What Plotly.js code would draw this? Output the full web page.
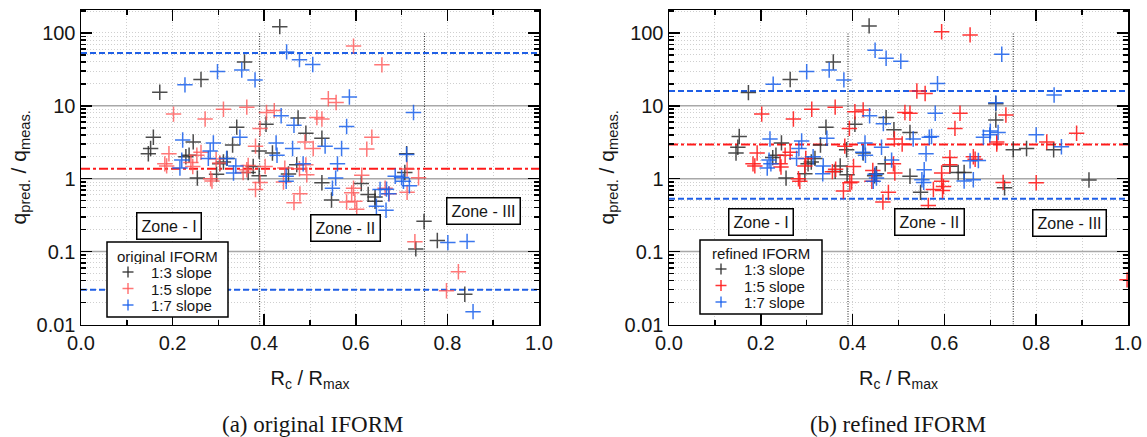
<!DOCTYPE html>
<html><head><meta charset="utf-8">
<script src="https://cdn.plot.ly/plotly-3.0.1.min.js"></script>
<style>html,body{margin:0;padding:0;background:#fff;} #chart{width:1147px;height:437px;}</style>
</head><body><div id="chart"></div>
<script>
// ---------- DATA : (a) original IFORM ----------
const origS3X = [0.434,0.357,0.262,0.172,0.340,0.158,0.152,0.147,0.245,0.236,0.229,0.254,0.296,0.303,0.311,0.319,0.331,0.389,0.376,0.365,0.389,0.404,0.474,0.491,0.471,0.453,0.418,0.526,0.526,0.547,0.612,0.627,0.642,0.642,0.711,0.707,0.749,0.778,0.731,0.838];
const origS3Y = [122,40,23,15.4,5.1,3.7,2.6,2.2,3.2,2.1,2.0,1.02,1.15,1.6,1.7,1.9,2.9,2.4,1.47,1.22,1.1,5.6,6.8,4.2,1.56,1.16,2.25,3.6,0.88,0.51,0.86,0.61,0.56,0.49,2.2,1.22,0.26,0.142,0.109,0.026];
const origS5X = [0.311,0.362,0.202,0.271,0.405,0.422,0.381,0.391,0.192,0.183,0.187,0.240,0.244,0.253,0.262,0.283,0.286,0.295,0.303,0.354,0.362,0.365,0.402,0.391,0.381,0.442,0.445,0.478,0.465,0.489,0.477,0.491,0.493,0.595,0.657,0.540,0.557,0.515,0.526,0.507,0.635,0.624,0.613,0.595,0.591,0.580,0.598,0.602,0.664,0.673,0.712,0.737,0.712,0.729,0.824,0.798];
const origS5Y = [9.0,9.6,7.7,6.6,8.1,8.6,2.8,4.9,2.2,1.6,1.5,1.67,1.47,2.1,2.3,1.0,0.93,1.86,1.64,1.22,1.33,1.52,1.47,0.89,0.71,0.9,1.4,0.62,0.47,3.2,1.37,1.55,1.13,66,36.5,12.5,11.1,6.9,6.6,2.6,3.7,2.55,1.12,0.74,0.64,0.48,0.49,0.38,0.74,0.62,0.65,1.03,1.36,0.137,0.053,0.029];
const origS7X = [0.449,0.477,0.506,0.351,0.298,0.227,0.380,0.437,0.465,0.222,0.289,0.347,0.282,0.278,0.220,0.216,0.318,0.338,0.333,0.426,0.428,0.462,0.448,0.448,0.485,0.586,0.580,0.533,0.569,0.726,0.560,0.556,0.549,0.653,0.667,0.672,0.645,0.666,0.686,0.700,0.704,0.717,0.711,0.801,0.843,0.856];
const origS7Y = [55,43,37,31,29.5,19.4,22.7,7.3,5.4,3.4,3.1,3.7,2.4,1.9,1.8,1.4,1.9,1.5,1.2,3.1,2.1,2.6,1.08,0.92,1.6,13.2,5.2,2.8,2.6,8.1,1.6,1.02,0.74,0.71,0.72,0.62,0.42,0.37,1.08,1.04,0.92,0.80,2.15,0.133,0.138,0.015];
// ---------- DATA : (b) refined IFORM ----------
const refS3X = [0.436,0.358,0.264,0.173,0.342,0.153,0.150,0.146,0.245,0.233,0.226,0.255,0.296,0.303,0.310,0.318,0.330,0.387,0.373,0.362,0.388,0.405,0.473,0.490,0.525,0.471,0.452,0.448,0.423,0.525,0.548,0.612,0.630,0.643,0.712,0.712,0.731,0.750,0.779,0.838,0.915];
const refS3Y = [125,40,23,15.2,5.1,3.8,2.7,2.25,3.1,2.1,1.95,1.02,1.17,1.6,1.7,1.9,2.9,2.5,1.5,1.26,1.13,5.6,6.9,4.7,4.3,1.6,1.17,1.1,2.25,1.08,0.65,1.48,1.22,1.22,10.7,6.4,0.75,2.5,2.6,2.5,0.96];
const refS5X = [0.202,0.271,0.311,0.362,0.405,0.423,0.393,0.383,0.192,0.183,0.187,0.242,0.244,0.253,0.264,0.282,0.285,0.296,0.298,0.356,0.363,0.402,0.394,0.380,0.398,0.442,0.444,0.478,0.466,0.491,0.508,0.489,0.492,0.514,0.525,0.540,0.558,0.594,0.656,0.634,0.623,0.612,0.612,0.663,0.667,0.594,0.594,0.598,0.596,0.576,0.565,0.734,0.714,0.714,0.728,0.800,0.823,0.888,0.998];
const refS5Y = [7.7,6.6,9.0,9.6,8.3,8.8,4.9,2.8,2.25,1.6,1.5,1.6,1.45,2.1,2.3,1.0,0.92,1.5,1.9,1.25,1.35,1.47,0.88,0.68,0.9,0.92,1.3,0.65,0.48,3.5,3.0,1.6,1.2,8.1,7.9,16,14.8,104,94,7.9,4.9,1.95,1.55,2.0,1.85,1.2,0.92,0.78,0.69,0.71,0.43,7.5,3.2,3.0,0.89,0.88,3.2,4.2,0.041];
const refS7X = [0.449,0.473,0.505,0.349,0.300,0.227,0.381,0.437,0.467,0.220,0.289,0.344,0.283,0.278,0.218,0.222,0.214,0.314,0.336,0.335,0.427,0.422,0.428,0.463,0.449,0.445,0.485,0.532,0.585,0.725,0.580,0.567,0.572,0.560,0.556,0.551,0.555,0.643,0.663,0.656,0.674,0.685,0.699,0.700,0.717,0.712,0.800,0.839,0.855,0.452];
const refS7Y = [58,45,41,31,29.5,19.8,22.7,7.3,5.7,3.5,3.3,3.6,2.6,1.9,1.8,1.6,1.4,2.0,1.5,1.17,3.1,2.3,2.1,2.7,1.15,0.92,1.8,3.5,20.2,51,7.9,3.7,3.8,2.2,1.33,0.97,0.89,0.93,0.97,1.76,1.78,3.7,4.0,4.5,4.3,11,4.0,14.1,2.75,1.02];
// reference lines: [upper bound, mean, lower bound]
const origBounds = [53, 1.37, 0.03];
const refBounds = [16, 2.95, 0.53];
const factorLines = [0.1, 1, 10];
const zoneEdges = [0.39, 0.75];
const zoneSpan = [0.01, 100];
const seriesNames = ['1:3 slope', '1:5 slope', '1:7 slope'];
const zoneLabels = ['Zone - I', 'Zone - II', 'Zone - III'];
const legendTitles = ['original IFORM', 'refined IFORM'];
const captions = ['(a) original IFORM', '(b) refined IFORM'];
const xTickVals = [0, 0.2, 0.4, 0.6, 0.8, 1.0];
const yTickVals = [0.01, 0.1, 1, 10, 100];
const yTickText = ['0.01', '0.1', '1', '10', '100'];

// ---------- LAYOUT ----------
const W = 1147, H = 437;
const SANS = 'Liberation Sans, Arial, sans-serif';
const SERIF = 'Liberation Serif, Times New Roman, serif';
const yMinor = [];
for (let e = -2; e < 2; e++) for (let m = 2; m <= 9; m++) yMinor.push(m * Math.pow(10, e));
yMinor.push(200);
const gridC = '#cfcfcf';
const TXT = '#161616';

function xAxis(domain, anchor) {
  return {
    domain, anchor, range: [0, 1], tickmode: 'array', tickvals: xTickVals,
    ticktext: xTickVals.map(v => v.toFixed(1)),
    ticks: 'inside', ticklen: 11, tickwidth: 1.5, tickcolor: '#000',
    showline: true, linecolor: '#000', linewidth: 1.5, mirror: 'ticks',
    showgrid: true, gridcolor: gridC, griddash: '1px,2px', gridwidth: 1, zeroline: false,
    minor: {dtick: 0.1, tick0: 0, ticks: 'inside', ticklen: 5, tickwidth: 1.5, tickcolor: '#000',
            showgrid: true, gridcolor: gridC, griddash: '1px,2px', gridwidth: 1},
    tickfont: {family: SANS, size: 20, color: TXT},
    title: {text: 'R<sub>c</sub> / R<sub>max</sub>', font: {family: SANS, size: 20, color: TXT}, standoff: 18}
  };
}
function yAxis(anchor) {
  return {
    type: 'log', domain: [1 - 324.5 / H, 1 - 10 / H], anchor, range: [-2, 2.315],
    tickmode: 'array', tickvals: yTickVals, ticktext: yTickText,
    ticks: 'inside', ticklen: 11, tickwidth: 1.5, tickcolor: '#000',
    showline: true, linecolor: '#000', linewidth: 1.5, mirror: 'ticks',
    showgrid: true, gridcolor: gridC, griddash: '1px,2px', gridwidth: 1, zeroline: false,
    minor: {tickmode: 'array', tickvals: yMinor, ticks: 'inside', ticklen: 5, tickwidth: 1.5, tickcolor: '#000',
            showgrid: true, gridcolor: gridC, griddash: '1px,2px', gridwidth: 1},
    tickfont: {family: SANS, size: 20, color: TXT}, ticklabelstandoff: 0,
    title: {text: 'q<sub>pred.</sub> / q<sub>meas.</sub>', font: {family: SANS, size: 21, color: TXT}, standoff: 4}
  };
}

const traces = [];
function line(xa, ya, xs, ys, color, dash, width) {
  traces.push({type: 'scatter', mode: 'lines', x: xs, y: ys, xaxis: xa, yaxis: ya,
    line: {color, dash, width}, showlegend: false, hoverinfo: 'skip'});
}
function addRefLines(xa, ya, bounds) {
  factorLines.forEach(v => line(xa, ya, [0, 1], [v, v], '#a8a8a8', 'solid', 1.5));
  zoneEdges.forEach(v => line(xa, ya, [v, v], zoneSpan, '#333', '1px,1.5px', 1.1));
  line(xa, ya, [0, 1], [bounds[0], bounds[0]], '#1f5fe6', '6px,3px', 2);
  line(xa, ya, [0, 1], [bounds[2], bounds[2]], '#1f5fe6', '6px,3px', 2);
  line(xa, ya, [0, 1], [bounds[1], bounds[1]], '#ff1a1a', '9px,3px,3px,3px', 2);
}
addRefLines('x', 'y', origBounds);
addRefLines('x2', 'y2', refBounds);

function pts(xa, ya, xs, ys, name, color) {
  traces.push({type: 'scatter', mode: 'markers', x: xs, y: ys, xaxis: xa, yaxis: ya, name, showlegend: false,
    marker: {symbol: 'cross-thin', size: 11, color, line: {width: 1.5, color}}});
}
const colsA = ['rgba(45,45,45,0.85)', 'rgba(255,85,85,0.8)', 'rgba(25,95,235,0.85)'];
const colsB = ['rgba(45,45,45,0.85)', 'rgba(255,30,30,0.9)', 'rgba(25,95,235,0.85)'];
pts('x', 'y', origS3X, origS3Y, seriesNames[0], colsA[0]);
pts('x', 'y', origS5X, origS5Y, seriesNames[1], colsA[1]);
pts('x', 'y', origS7X, origS7Y, seriesNames[2], colsA[2]);
pts('x2', 'y2', refS3X, refS3Y, seriesNames[0], colsB[0]);
pts('x2', 'y2', refS5X, refS5Y, seriesNames[1], colsB[1]);
pts('x2', 'y2', refS7X, refS7Y, seriesNames[2], colsB[2]);

const shapes = [];
const annotations = [];
function P(px, py) { return [px / W, 1 - py / H]; }
function seg(x0, y0, x1, y1, color) {
  const a = P(x0, y0), b = P(x1, y1);
  shapes.push({type: 'line', xref: 'paper', yref: 'paper', x0: a[0], y0: a[1], x1: b[0], y1: b[1],
    line: {color, width: 1.5}, layer: 'above'});
}
// boxed legend: frame + cross glyphs (shapes) + text annotations
function legendBox(x0, y0, x1, y1, title, cols, symX, txtX, rowY) {
  const a = P(x0, y0), b = P(x1, y1);
  shapes.push({type: 'rect', xref: 'paper', yref: 'paper', x0: a[0], y0: b[1], x1: b[0], y1: a[1],
    fillcolor: '#fff', line: {color: '#000', width: 1.5}, layer: 'above'});
  const t = P((x0 + x1) / 2, rowY[0]);
  annotations.push({text: title, xref: 'paper', yref: 'paper', x: t[0], y: t[1], showarrow: false,
    xanchor: 'center', yanchor: 'middle', height: 16, font: {family: SANS, size: 15, color: TXT}});
  seriesNames.forEach((n, i) => {
    const yy = rowY[i + 1];
    seg(symX - 5.5, yy, symX + 5.5, yy, cols[i]);
    seg(symX, yy - 5.5, symX, yy + 5.5, cols[i]);
    const q = P(txtX, yy);
    annotations.push({text: n, xref: 'paper', yref: 'paper', x: q[0], y: q[1], showarrow: false,
      xanchor: 'left', yanchor: 'middle', height: 16, font: {family: SANS, size: 15, color: TXT}});
  });
}
legendBox(107, 242, 228, 317, legendTitles[0], colsA, 128, 149, [256, 272, 288.5, 305]);
legendBox(700, 240, 822, 314, legendTitles[1], colsB, 721, 742, [253, 269, 285.5, 302]);

function zone(text, px, py) {
  const p = P(px, py);
  annotations.push({text, xref: 'paper', yref: 'paper', x: p[0], y: p[1], showarrow: false,
    xanchor: 'center', yanchor: 'middle',
    bgcolor: '#fff', bordercolor: '#000', borderwidth: 1.5, borderpad: 4,
    font: {family: SANS, size: 16, color: TXT}});
}
function caption(text, px, py) {
  const p = P(px, py);
  annotations.push({text, xref: 'paper', yref: 'paper', x: p[0], y: p[1], showarrow: false,
    xanchor: 'center', yanchor: 'middle', font: {family: SERIF, size: 23, color: TXT}});
}
zone(zoneLabels[0], 168.5, 226); zone(zoneLabels[1], 345, 227.5); zone(zoneLabels[2], 483.5, 211);
zone(zoneLabels[0], 761, 221.5); zone(zoneLabels[1], 929, 222); zone(zoneLabels[2], 1069.5, 222.5);
caption(captions[0], 312, 424); caption(captions[1], 898, 424);

const layout = {
  width: W, height: H, margin: {l: 0, r: 0, t: 0, b: 0},
  paper_bgcolor: '#fff', plot_bgcolor: '#fff', showlegend: false,
  xaxis: xAxis([81 / W, 539 / W], 'y'), yaxis: yAxis('x'),
  xaxis2: xAxis([669 / W, 1128 / W], 'y2'), yaxis2: yAxis('x2'),
  shapes, annotations
};
Plotly.newPlot('chart', traces, layout, {displayModeBar: false, staticPlot: true});
</script></body></html>
